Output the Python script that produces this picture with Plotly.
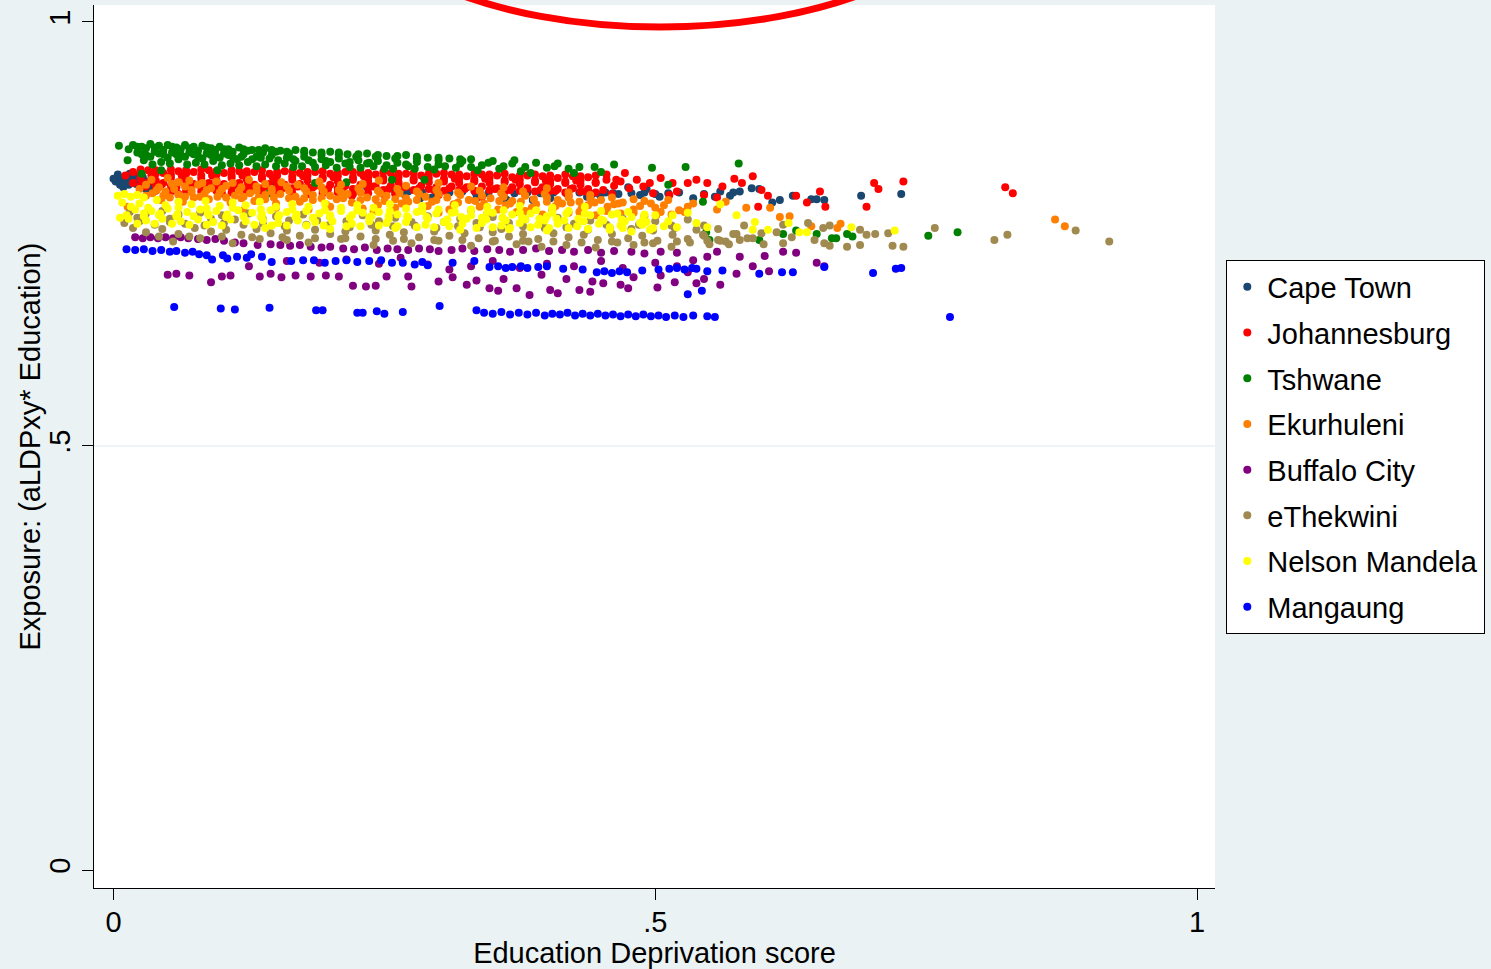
import plotly.graph_objects as go

# ---------------- data ----------------
SERIES = ["Cape Town", "Johannesburg", "Tshwane", "Ekurhuleni",
          "Buffalo City", "eThekwini", "Nelson Mandela", "Mangaung"]
COLORS = ["#1a476f", "#ff0000", "#008000", "#ff8000",
          "#800080", "#a08a50", "#ffff00", "#0000ff"]

X_TICKS = [0, 0.5, 1]
X_TICK_TEXT = ["0", ".5", "1"]
Y_TICKS = [0, 0.5, 1]
Y_TICK_TEXT = ["0", ".5", "1"]

cape_town = [
    (0.002,0.812),(0.006,0.816),(0.006,0.808),(0.010,0.813),(0.012,0.818),(0.014,0.808),(0.017,0.814),
    (0.020,0.819),(0.021,0.809),(0.024,0.813),(0.027,0.817),(0.028,0.808),(0.031,0.812),(0.034,0.806),
    (0.004,0.820),(0.036,0.814),(0.000,0.815),(0.015,0.821),(0.030,0.803),(0.009,0.805),
    (0.149,0.808),(0.234,0.805),(0.269,0.796),(0.283,0.792),(0.294,0.793),(0.335,0.792),(0.360,0.795),
    (0.363,0.790),(0.387,0.790),(0.403,0.792),(0.437,0.794),(0.449,0.796),(0.461,0.798),(0.475,0.805),
    (0.486,0.796),(0.492,0.803),(0.504,0.794),(0.535,0.792),(0.555,0.794),(0.569,0.795),(0.578,0.800),
    (0.589,0.804),(0.596,0.803),(0.608,0.787),(0.615,0.790),(0.627,0.795),(0.644,0.791),(0.649,0.791),
    (0.656,0.790),(0.690,0.795),(0.727,0.797),
    (0.260,0.799),(0.272,0.800),(0.285,0.799),(0.298,0.800),(0.310,0.799),(0.322,0.800),(0.334,0.799),
    (0.346,0.798),(0.358,0.799),(0.370,0.798),(0.382,0.799),(0.394,0.798),(0.406,0.799),(0.418,0.798),
    (0.430,0.799),(0.442,0.797),(0.454,0.799),(0.466,0.797),(0.478,0.798),(0.490,0.799),(0.500,0.797),
    (0.512,0.798),(0.522,0.799),(0.545,0.797),(0.560,0.800),(0.572,0.799),
]

johannesburg = [
    (0.018,0.823),(0.032,0.825),(0.046,0.822),(0.060,0.824),(0.074,0.823),(0.088,0.825),(0.102,0.822),
    (0.116,0.824),(0.130,0.823),(0.144,0.821),(0.158,0.824),(0.172,0.822),(0.186,0.823),(0.200,0.821),
    (0.214,0.823),(0.228,0.822),(0.242,0.820),(0.256,0.822),(0.270,0.821),(0.284,0.819),(0.298,0.821),
    (0.312,0.820),(0.326,0.818),(0.340,0.820),(0.354,0.819),(0.368,0.817),(0.382,0.819),(0.396,0.818),
    (0.410,0.816),(0.424,0.818),(0.438,0.817),
    (0.025,0.815),(0.039,0.813),(0.053,0.816),(0.067,0.814),(0.081,0.815),(0.095,0.813),(0.109,0.816),
    (0.123,0.814),(0.137,0.815),(0.151,0.812),(0.165,0.814),(0.179,0.813),(0.193,0.815),(0.207,0.812),
    (0.221,0.814),(0.235,0.812),(0.249,0.813),(0.263,0.811),(0.277,0.813),(0.291,0.811),(0.305,0.812),
    (0.319,0.810),(0.333,0.812),(0.347,0.810),(0.361,0.811),(0.375,0.809),(0.389,0.811),(0.403,0.809),
    (0.417,0.810),(0.431,0.808),(0.445,0.810),
    (0.030,0.806),(0.044,0.808),(0.058,0.805),(0.072,0.807),(0.086,0.806),(0.100,0.804),(0.114,0.807),
    (0.128,0.805),(0.142,0.806),(0.156,0.804),(0.170,0.806),(0.184,0.805),(0.198,0.803),(0.212,0.805),
    (0.226,0.804),(0.240,0.806),(0.254,0.803),(0.268,0.805),(0.282,0.804),(0.296,0.802),(0.310,0.804),
    (0.324,0.803),(0.338,0.801),(0.352,0.803),(0.366,0.802),(0.380,0.800),(0.394,0.802),(0.408,0.801),
    (0.422,0.803),(0.436,0.800),(0.452,0.802),
    (0.060,0.797),(0.100,0.798),(0.140,0.796),(0.180,0.797),(0.220,0.795),(0.260,0.797),(0.300,0.796),
    (0.340,0.794),(0.380,0.796),(0.420,0.795),(0.460,0.797),
    (0.011,0.819),(0.035,0.819),(0.063,0.819),(0.091,0.819),(0.119,0.819),(0.147,0.817),(0.175,0.818),
    (0.203,0.817),(0.231,0.818),(0.259,0.816),(0.287,0.816),(0.315,0.815),(0.343,0.815),(0.371,0.814),
    (0.399,0.813),(0.427,0.813),(0.455,0.814),
    (0.025,0.820),(0.039,0.821),(0.053,0.820),(0.067,0.821),(0.081,0.819),(0.095,0.820),(0.109,0.819),
    (0.123,0.820),(0.137,0.818),(0.151,0.819),(0.165,0.818),(0.179,0.819),(0.193,0.817),(0.207,0.818),
    (0.221,0.817),(0.235,0.817),(0.249,0.816),(0.263,0.817),(0.277,0.815),(0.291,0.816),(0.305,0.815),
    (0.319,0.815),(0.333,0.814),(0.347,0.815),(0.361,0.813),(0.375,0.814),(0.389,0.813),(0.403,0.813),
    (0.417,0.812),(0.431,0.813),(0.445,0.811),
    (0.018,0.810),(0.032,0.811),(0.046,0.810),(0.060,0.811),(0.074,0.809),(0.088,0.810),(0.102,0.809),
    (0.116,0.810),(0.130,0.808),(0.144,0.809),(0.158,0.808),(0.172,0.809),(0.186,0.807),(0.200,0.808),
    (0.214,0.807),(0.228,0.808),(0.242,0.806),(0.256,0.807),(0.270,0.806),(0.284,0.807),(0.298,0.805),
    (0.312,0.806),(0.326,0.805),(0.340,0.806),(0.354,0.804),(0.368,0.805),(0.382,0.804),(0.396,0.805),
    (0.410,0.803),(0.424,0.804),(0.438,0.803),
    (0.039,0.801),(0.053,0.800),(0.067,0.801),(0.081,0.800),(0.095,0.801),(0.109,0.799),(0.123,0.800),
    (0.137,0.799),(0.151,0.800),(0.165,0.798),(0.179,0.799),(0.193,0.798),(0.207,0.799),(0.221,0.797),
    (0.235,0.798),(0.249,0.797),
    (0.025,0.826),(0.039,0.825),(0.053,0.826),(0.067,0.825),(0.081,0.826),(0.095,0.824),(0.109,0.825),
    (0.123,0.824),(0.137,0.825),(0.151,0.823),(0.165,0.824),(0.179,0.823),(0.193,0.824),(0.207,0.822),
    (0.221,0.823),(0.235,0.822),(0.249,0.823),(0.263,0.821),(0.277,0.822),(0.291,0.821),(0.305,0.822),
    (0.319,0.820),(0.333,0.821),(0.347,0.820),(0.361,0.821),(0.375,0.819),(0.389,0.820),(0.403,0.819),
    (0.417,0.820),(0.431,0.818),(0.445,0.819),
    (0.025,0.807),(0.039,0.806),(0.053,0.807),(0.067,0.806),(0.081,0.805),(0.095,0.806),(0.109,0.805),
    (0.123,0.806),(0.137,0.804),(0.151,0.805),(0.165,0.804),(0.179,0.805),(0.193,0.803),(0.207,0.804),
    (0.221,0.803),(0.235,0.804),(0.249,0.802),(0.263,0.803),(0.277,0.802),(0.291,0.803),(0.305,0.801),
    (0.319,0.802),(0.333,0.801),(0.347,0.802),(0.361,0.800),(0.375,0.801),(0.389,0.800),(0.403,0.801),
    (0.417,0.799),(0.431,0.800),(0.445,0.799),
    (0.455,0.820),(0.462,0.807),(0.464,0.814),(0.468,0.812),(0.472,0.822),(0.476,0.804),(0.483,0.814),
    (0.489,0.806),(0.495,0.810),(0.498,0.798),(0.505,0.816),(0.513,0.796),(0.516,0.810),(0.520,0.800),
    (0.530,0.810),(0.538,0.814),(0.545,0.796),(0.548,0.810),(0.557,0.793),(0.562,0.806),(0.573,0.815),
    (0.580,0.810),(0.590,0.818),(0.595,0.782),(0.598,0.802),(0.604,0.795),(0.630,0.795),(0.640,0.787),
    (0.652,0.800),(0.657,0.782),(0.695,0.782),(0.702,0.810),(0.706,0.803),(0.729,0.812),(0.823,0.805),
    (0.830,0.798),
]

tshwane = [
    (0.018,0.855),(0.026,0.853),(0.034,0.856),(0.042,0.854),(0.050,0.855),(0.058,0.852),(0.066,0.855),
    (0.074,0.853),(0.082,0.854),(0.090,0.851),(0.098,0.853),(0.106,0.850),(0.116,0.852),(0.128,0.849),
    (0.140,0.851),(0.154,0.848),(0.168,0.849),(0.184,0.846),(0.200,0.847),(0.216,0.844),(0.234,0.845),
    (0.252,0.842),(0.270,0.843),(0.290,0.840),(0.310,0.839),(0.330,0.838),(0.350,0.836),(0.370,0.837),
    (0.390,0.834),(0.410,0.833),
    (0.022,0.846),(0.030,0.843),(0.038,0.847),(0.046,0.844),(0.054,0.846),(0.062,0.843),(0.070,0.846),
    (0.078,0.842),(0.086,0.845),(0.094,0.843),(0.102,0.845),(0.110,0.841),(0.120,0.844),(0.132,0.841),
    (0.146,0.843),(0.160,0.840),(0.176,0.841),(0.192,0.838),(0.208,0.839),(0.226,0.837),(0.244,0.836),
    (0.262,0.834),(0.280,0.835),(0.300,0.832),(0.320,0.833),(0.340,0.831),(0.360,0.830),(0.380,0.829),
    (0.400,0.828),(0.420,0.827),
    (0.028,0.837),(0.044,0.835),(0.060,0.838),(0.076,0.834),(0.092,0.836),(0.108,0.833),(0.124,0.835),
    (0.140,0.832),(0.158,0.833),(0.174,0.830),(0.196,0.831),(0.218,0.829),(0.240,0.830),(0.258,0.827),
    (0.296,0.826),(0.336,0.825),(0.376,0.824),
    (0.014,0.850),(0.030,0.851),(0.046,0.849),(0.062,0.850),(0.078,0.848),(0.094,0.849),(0.110,0.847),
    (0.124,0.848),(0.138,0.846),(0.150,0.847),(0.162,0.845),(0.176,0.846),(0.192,0.843),(0.208,0.844),
    (0.224,0.841),(0.242,0.841),(0.260,0.839),(0.280,0.839),(0.300,0.837),(0.322,0.836),(0.346,0.834),
    (0.368,0.833),
    (0.034,0.841),(0.050,0.840),(0.066,0.841),(0.082,0.839),(0.098,0.840),(0.114,0.838),(0.128,0.838),
    (0.152,0.837),(0.168,0.836),(0.184,0.834),(0.200,0.835),(0.214,0.833),(0.234,0.833),(0.252,0.831),
    (0.272,0.830),(0.290,0.829),(0.316,0.828),(0.356,0.827),
    (0.022,0.853),(0.038,0.852),(0.054,0.853),(0.070,0.851),(0.086,0.852),(0.102,0.850),(0.120,0.850),
    (0.134,0.849),(0.146,0.849),(0.160,0.847),(0.176,0.848),(0.192,0.846),(0.208,0.846),(0.226,0.844),
    (0.244,0.843),(0.262,0.842),(0.280,0.841),(0.300,0.840),(0.320,0.838),
    (0.026,0.844),(0.042,0.845),(0.058,0.844),(0.074,0.844),(0.090,0.843),(0.106,0.843),(0.118,0.841),
    (0.136,0.840),(0.144,0.839),(0.166,0.838),(0.180,0.837),(0.196,0.836),(0.218,0.835),(0.236,0.834),
    (0.270,0.832),(0.306,0.830),(0.330,0.829),
    (0.036,0.832),(0.052,0.833),(0.068,0.832),(0.084,0.832),(0.100,0.831),(0.116,0.831),(0.132,0.830),
    (0.150,0.830),(0.166,0.829),(0.186,0.829),(0.206,0.828),(0.228,0.828),(0.250,0.827),(0.278,0.827),
    (0.005,0.854),(0.013,0.837),(0.026,0.821),(0.044,0.825),(0.096,0.825),(0.144,0.798),(0.186,0.810),
    (0.215,0.811),(0.257,0.814),(0.287,0.814),
    (0.407,0.830),(0.430,0.829),(0.444,0.829),(0.462,0.832),(0.497,0.828),(0.528,0.829),(0.577,0.833),
    (0.512,0.808),(0.544,0.788),(0.425,0.822),(0.450,0.823),(0.385,0.822),
    (0.547,0.752),(0.550,0.743),(0.596,0.743),(0.618,0.750),(0.630,0.754),(0.649,0.750),(0.663,0.745),
    (0.667,0.745),(0.677,0.750),(0.682,0.747),(0.752,0.748),(0.779,0.752),
]

ekurhuleni = [
    (0.030,0.808),(0.042,0.805),(0.054,0.809),(0.066,0.806),(0.078,0.808),(0.090,0.804),(0.104,0.807),
    (0.118,0.805),(0.132,0.806),(0.146,0.803),(0.160,0.806),(0.176,0.804),(0.192,0.805),(0.208,0.802),
    (0.226,0.804),(0.244,0.801),(0.262,0.803),(0.280,0.800),(0.298,0.802),(0.318,0.799),(0.338,0.801),
    (0.358,0.798),(0.378,0.800),(0.398,0.797),(0.420,0.799),(0.440,0.796),
    (0.036,0.798),(0.048,0.800),(0.060,0.796),(0.072,0.799),(0.084,0.797),(0.098,0.799),(0.112,0.795),
    (0.126,0.798),(0.140,0.796),(0.154,0.797),(0.168,0.794),(0.184,0.796),(0.200,0.795),(0.216,0.797),
    (0.234,0.793),(0.252,0.795),(0.270,0.792),(0.288,0.794),(0.308,0.793),(0.328,0.790),(0.348,0.792),
    (0.368,0.789),(0.388,0.791),(0.410,0.790),(0.430,0.788),(0.450,0.790),(0.470,0.787),(0.490,0.789),
    (0.044,0.790),(0.064,0.788),(0.088,0.791),(0.108,0.787),(0.130,0.789),(0.150,0.786),(0.172,0.788),
    (0.196,0.785),(0.220,0.787),(0.244,0.784),(0.266,0.786),(0.290,0.783),(0.314,0.785),(0.338,0.782),
    (0.362,0.784),(0.386,0.781),(0.408,0.783),(0.432,0.780),(0.456,0.782),(0.480,0.779),(0.500,0.781),
    (0.120,0.778),(0.180,0.779),(0.240,0.777),(0.300,0.775),(0.345,0.774),(0.372,0.776),(0.396,0.773),
    (0.420,0.775),(0.445,0.772),(0.468,0.774),(0.490,0.771),(0.515,0.773),(0.527,0.776),
    (0.024,0.803),(0.040,0.802),(0.056,0.803),(0.072,0.802),(0.086,0.802),(0.100,0.803),(0.116,0.801),
    (0.132,0.801),(0.146,0.800),(0.162,0.801),(0.178,0.800),(0.194,0.800),(0.210,0.799),(0.228,0.799),
    (0.246,0.798),(0.264,0.798),(0.282,0.797),(0.300,0.797),(0.320,0.796),(0.340,0.795),(0.360,0.794),
    (0.380,0.795),(0.400,0.793),(0.420,0.793),(0.440,0.792),(0.460,0.793),(0.480,0.791),
    (0.052,0.793),(0.074,0.793),(0.096,0.794),(0.118,0.792),(0.140,0.791),(0.162,0.792),(0.184,0.790),
    (0.206,0.791),(0.228,0.790),(0.250,0.789),(0.272,0.788),(0.294,0.788),(0.318,0.787),(0.342,0.786),
    (0.366,0.786),(0.390,0.785),(0.414,0.786),(0.438,0.784),(0.462,0.785),(0.486,0.783),(0.508,0.784),
    (0.530,0.782),
    (0.030,0.795),(0.046,0.795),(0.066,0.794),(0.080,0.794),(0.104,0.793),(0.120,0.794),(0.134,0.793),
    (0.148,0.793),(0.176,0.792),(0.192,0.792),(0.212,0.792),(0.242,0.791),(0.260,0.791),(0.280,0.790),
    (0.298,0.790),(0.334,0.789),(0.356,0.789),(0.376,0.788),(0.400,0.788),(0.422,0.787),(0.444,0.787),
    (0.466,0.786),(0.496,0.786),
    (0.150,0.781),(0.200,0.782),(0.230,0.780),(0.260,0.781),(0.285,0.779),(0.310,0.779),(0.330,0.778),
    (0.355,0.779),(0.380,0.777),(0.405,0.778),(0.430,0.776),(0.455,0.777),(0.480,0.775),(0.505,0.776),
    (0.035,0.814),(0.050,0.816),(0.070,0.813),(0.095,0.812),(0.125,0.814),(0.155,0.811),(0.190,0.812),
    (0.245,0.813),(0.300,0.810),(0.013,0.782),
    (0.060,0.811),(0.082,0.810),(0.110,0.810),(0.140,0.809),(0.170,0.808),(0.210,0.808),(0.230,0.809),
    (0.270,0.807),(0.330,0.806),(0.360,0.805),(0.400,0.804),
    (0.501,0.772),(0.512,0.790),(0.522,0.778),(0.535,0.786),(0.557,0.779),(0.565,0.788),(0.584,0.781),
    (0.606,0.781),(0.615,0.770),(0.624,0.771),(0.644,0.759),(0.668,0.757),(0.671,0.762),(0.869,0.767),
    (0.878,0.759),
]

buffalo_city = [
    (0.020,0.746),(0.027,0.745),(0.034,0.746),(0.041,0.745),(0.048,0.746),(0.055,0.745),(0.062,0.746),
    (0.069,0.745),(0.078,0.744),(0.086,0.743),(0.094,0.744),(0.102,0.742),(0.112,0.740),(0.120,0.739),
    (0.133,0.737),(0.145,0.738),(0.154,0.737),(0.163,0.736),(0.172,0.737),(0.182,0.735),(0.192,0.734),
    (0.200,0.735),(0.212,0.733),(0.222,0.732),(0.232,0.734),(0.243,0.731),(0.253,0.733),(0.262,0.732),
    (0.272,0.731),(0.282,0.733),(0.292,0.732),(0.300,0.730),(0.312,0.731),(0.322,0.733),(0.333,0.730),
    (0.345,0.732),(0.356,0.731),(0.366,0.729),(0.378,0.731),(0.390,0.733),(0.402,0.730),(0.414,0.731),
    (0.425,0.729),(0.438,0.731),(0.450,0.728),(0.462,0.730),(0.478,0.729),(0.490,0.727),(0.505,0.729),
    (0.520,0.728),(0.548,0.723),(0.557,0.729),(0.578,0.723),(0.590,0.712),(0.601,0.724),(0.618,0.729),
    (0.630,0.728),(0.649,0.716),
    (0.050,0.702),(0.058,0.703),(0.070,0.701),(0.090,0.693),(0.100,0.700),(0.108,0.701),(0.125,0.712),
    (0.135,0.700),(0.145,0.703),(0.155,0.699),(0.168,0.701),(0.182,0.700),(0.196,0.701),(0.208,0.700),
    (0.221,0.689),(0.233,0.688),(0.242,0.689),(0.252,0.700),(0.272,0.700),(0.275,0.688),(0.300,0.694),
    (0.160,0.718),(0.190,0.716),(0.215,0.720),(0.245,0.715),(0.265,0.722),(0.290,0.714),(0.310,0.708),
    (0.313,0.699),(0.326,0.690),(0.335,0.695),(0.347,0.686),(0.360,0.697),(0.372,0.686),(0.384,0.678),
    (0.395,0.702),(0.403,0.684),(0.418,0.697),(0.430,0.684),(0.442,0.694),(0.452,0.692),(0.468,0.690),
    (0.475,0.686),(0.480,0.699),(0.502,0.687),(0.505,0.701),(0.518,0.693),(0.530,0.705),(0.538,0.692),
    (0.545,0.697),(0.560,0.690),(0.575,0.703),(0.605,0.706),(0.656,0.712),(0.330,0.712),(0.350,0.718),
    (0.375,0.710),(0.400,0.715),(0.425,0.712),(0.450,0.718),(0.470,0.710),(0.500,0.716),(0.520,0.712),
    (0.535,0.719),(0.355,0.683),(0.410,0.680),(0.440,0.682),
]

ethekwini = [
    (0.015,0.776),(0.030,0.774),(0.045,0.777),(0.060,0.773),(0.080,0.775),(0.100,0.772),(0.125,0.774),
    (0.150,0.771),(0.175,0.773),(0.200,0.770),(0.230,0.772),(0.260,0.769),(0.290,0.771),(0.320,0.768),
    (0.350,0.770),(0.380,0.767),(0.410,0.769),(0.440,0.766),(0.470,0.768),(0.500,0.765),(0.530,0.767),
    (0.010,0.763),(0.024,0.765),(0.038,0.761),(0.052,0.764),(0.066,0.762),(0.084,0.760),(0.102,0.763),
    (0.120,0.761),(0.138,0.762),(0.158,0.759),(0.178,0.761),(0.198,0.760),(0.218,0.758),(0.238,0.761),
    (0.258,0.759),(0.278,0.760),(0.298,0.757),(0.318,0.759),(0.338,0.758),(0.358,0.756),(0.378,0.759),
    (0.398,0.757),(0.418,0.758),(0.438,0.755),(0.458,0.757),(0.478,0.756),(0.498,0.754),(0.518,0.757),
    (0.538,0.755),(0.558,0.756),
    (0.030,0.752),(0.060,0.750),(0.090,0.753),(0.118,0.749),(0.145,0.751),(0.172,0.748),(0.200,0.750),
    (0.228,0.747),(0.255,0.749),(0.282,0.746),(0.310,0.748),(0.337,0.745),(0.365,0.747),(0.392,0.744),
    (0.420,0.746),(0.447,0.743),(0.475,0.745),(0.502,0.742),(0.530,0.744),(0.558,0.743),(0.585,0.745),
    (0.055,0.741),(0.110,0.739),(0.180,0.740),(0.240,0.737),(0.275,0.739),(0.330,0.736),(0.372,0.738),
    (0.395,0.735),(0.418,0.737),(0.445,0.734),(0.480,0.737),(0.515,0.735),(0.550,0.738),
    (0.018,0.757),(0.045,0.756),(0.075,0.757),(0.104,0.755),(0.132,0.756),(0.160,0.754),(0.186,0.755),
    (0.214,0.753),(0.242,0.754),(0.268,0.752),(0.296,0.753),(0.324,0.751),(0.350,0.752),(0.378,0.750),
    (0.406,0.751),(0.434,0.749),(0.460,0.750),(0.488,0.748),(0.516,0.749),(0.544,0.749),(0.572,0.750),
    (0.598,0.751),
    (0.080,0.745),(0.135,0.744),(0.160,0.743),(0.210,0.744),(0.258,0.742),(0.300,0.742),(0.350,0.741),
    (0.383,0.741),(0.432,0.740),(0.465,0.740),(0.498,0.739),(0.532,0.740),(0.565,0.741),
    (0.022,0.769),(0.052,0.768),(0.090,0.768),(0.112,0.767),(0.138,0.767),(0.162,0.766),(0.188,0.766),
    (0.215,0.765),(0.245,0.765),(0.275,0.764),(0.305,0.764),(0.335,0.763),(0.365,0.763),(0.395,0.762),
    (0.425,0.762),(0.455,0.761),(0.485,0.761),(0.515,0.760),(0.545,0.760),
    (0.042,0.747),(0.070,0.747),(0.100,0.747),(0.128,0.746),(0.156,0.746),(0.186,0.745),(0.214,0.745),
    (0.242,0.744),(0.268,0.744),(0.296,0.743),(0.322,0.743),(0.352,0.742),(0.378,0.742),(0.406,0.741),
    (0.460,0.741),(0.490,0.740),(0.520,0.741),(0.548,0.742),(0.578,0.743),
    (0.545,0.748),(0.560,0.742),(0.568,0.738),(0.575,0.750),(0.582,0.760),(0.590,0.745),(0.600,0.738),
    (0.612,0.752),(0.618,0.761),(0.618,0.739),(0.626,0.746),(0.641,0.763),(0.647,0.743),(0.655,0.757),
    (0.656,0.739),(0.661,0.736),(0.661,0.760),(0.677,0.735),(0.689,0.755),(0.689,0.737),(0.695,0.749),
    (0.703,0.750),(0.715,0.751),(0.719,0.736),(0.729,0.735),(0.758,0.757),(0.813,0.743),(0.825,0.749),
    (0.888,0.754),(0.919,0.741),
]

nelson_mandela = [
    (0.004,0.795),(0.010,0.797),(0.016,0.794),(0.022,0.796),(0.028,0.793),(0.040,0.790),(0.060,0.788),
    (0.085,0.789),(0.110,0.787),(0.135,0.788),(0.165,0.785),(0.195,0.786),(0.225,0.784),(0.255,0.785),
    (0.285,0.783),(0.315,0.784),(0.345,0.782),(0.375,0.783),(0.405,0.781),(0.435,0.782),
    (0.020,0.779),(0.035,0.777),(0.050,0.780),(0.068,0.776),(0.080,0.779),(0.095,0.777),(0.115,0.778),
    (0.128,0.775),(0.145,0.778),(0.160,0.776),(0.178,0.777),(0.190,0.774),(0.210,0.777),(0.230,0.775),
    (0.245,0.776),(0.262,0.773),(0.280,0.776),(0.298,0.774),(0.312,0.775),(0.330,0.772),(0.350,0.775),
    (0.368,0.773),(0.385,0.774),(0.400,0.771),(0.418,0.774),(0.440,0.772),(0.460,0.773),(0.478,0.770),
    (0.500,0.772),
    (0.006,0.769),(0.014,0.768),(0.030,0.766),(0.045,0.768),(0.062,0.765),(0.078,0.767),(0.092,0.764),
    (0.108,0.767),(0.122,0.765),(0.138,0.766),(0.152,0.763),(0.170,0.766),(0.186,0.764),(0.202,0.765),
    (0.220,0.762),(0.236,0.765),(0.252,0.763),(0.270,0.764),(0.288,0.761),(0.305,0.764),(0.322,0.762),
    (0.340,0.763),(0.358,0.760),(0.375,0.763),(0.392,0.761),(0.410,0.762),(0.428,0.759),(0.448,0.762),
    (0.468,0.760),(0.488,0.761),(0.508,0.759),
    (0.140,0.757),(0.200,0.756),(0.260,0.757),(0.320,0.755),(0.365,0.756),(0.400,0.754),(0.438,0.756),
    (0.458,0.755),(0.478,0.753),(0.495,0.755),
    (0.008,0.787),(0.024,0.786),(0.048,0.784),(0.072,0.785),(0.098,0.783),(0.122,0.784),(0.150,0.782),
    (0.180,0.782),(0.210,0.781),(0.240,0.781),(0.270,0.780),(0.300,0.779),(0.330,0.779),(0.360,0.778),
    (0.390,0.778),(0.420,0.777),(0.450,0.777),(0.475,0.776),
    (0.012,0.772),(0.028,0.771),(0.042,0.772),(0.058,0.771),(0.074,0.771),(0.088,0.772),(0.104,0.770),
    (0.120,0.771),(0.136,0.770),(0.152,0.770),(0.168,0.770),(0.184,0.769),(0.200,0.770),(0.218,0.769),
    (0.236,0.769),(0.254,0.768),(0.272,0.769),(0.290,0.768),(0.308,0.767),(0.326,0.768),(0.344,0.767),
    (0.362,0.766),(0.380,0.767),(0.398,0.766),(0.416,0.766),(0.434,0.765),(0.452,0.766),(0.472,0.765),
    (0.492,0.764),(0.512,0.765),
    (0.100,0.760),(0.160,0.760),(0.215,0.759),(0.245,0.760),(0.280,0.758),(0.310,0.759),(0.335,0.757),
    (0.385,0.758),(0.420,0.757),(0.470,0.757),(0.520,0.758),
    (0.016,0.782),(0.032,0.781),(0.060,0.781),(0.086,0.780),(0.110,0.781),(0.136,0.779),(0.165,0.779),
    (0.195,0.778),(0.225,0.778),(0.255,0.777),(0.285,0.777),(0.315,0.776),(0.345,0.776),(0.375,0.775),
    (0.405,0.775),(0.435,0.774),(0.465,0.774),(0.490,0.773),
    (0.028,0.774),(0.043,0.774),(0.059,0.773),(0.087,0.774),(0.105,0.773),(0.137,0.773),(0.153,0.772),
    (0.169,0.773),(0.200,0.772),(0.220,0.772),(0.238,0.771),(0.254,0.771),(0.271,0.771),(0.289,0.770),
    (0.321,0.770),(0.340,0.769),(0.359,0.769),(0.377,0.769),(0.393,0.768),(0.409,0.768),(0.429,0.768),
    (0.450,0.767),(0.469,0.767),(0.489,0.767),
    (0.022,0.762),(0.038,0.762),(0.054,0.762),(0.070,0.761),(0.086,0.761),(0.130,0.761),(0.146,0.760),
    (0.178,0.760),(0.194,0.760),(0.228,0.759),(0.262,0.759),(0.296,0.758),(0.350,0.758),(0.366,0.757),
    (0.402,0.757),(0.438,0.756),(0.458,0.758),(0.498,0.757),
    (0.486,0.763),(0.516,0.772),(0.530,0.775),(0.538,0.763),(0.548,0.758),(0.560,0.785),(0.575,0.772),
    (0.590,0.755),(0.592,0.764),(0.604,0.755),(0.623,0.763),(0.633,0.752),(0.640,0.752),(0.681,0.758),
    (0.721,0.754),
]

mangaung = [
    (0.012,0.732),(0.020,0.731),(0.028,0.732),(0.036,0.730),(0.044,0.731),(0.052,0.729),(0.058,0.730),
    (0.066,0.728),(0.073,0.729),(0.079,0.726),(0.086,0.725),(0.091,0.720),(0.101,0.725),(0.105,0.721),
    (0.114,0.723),(0.123,0.722),(0.127,0.726),(0.137,0.723),(0.146,0.717),(0.164,0.718),(0.175,0.719),
    (0.185,0.719),(0.195,0.716),(0.205,0.718),(0.215,0.719),(0.225,0.717),(0.236,0.718),(0.247,0.719),
    (0.257,0.716),(0.267,0.716),(0.278,0.714),(0.285,0.717),(0.290,0.713),(0.313,0.716),(0.333,0.718),
    (0.347,0.711),(0.355,0.712),(0.362,0.710),(0.368,0.711),(0.376,0.712),(0.382,0.710),(0.392,0.711),
    (0.400,0.712),(0.415,0.709),(0.433,0.708),(0.446,0.705),(0.453,0.706),(0.460,0.704),(0.467,0.706),
    (0.474,0.705),(0.488,0.707),(0.503,0.708),(0.513,0.709),(0.520,0.710),(0.527,0.708),(0.534,0.710),
    (0.538,0.709),(0.548,0.706),(0.562,0.707),(0.596,0.703),(0.617,0.705),(0.627,0.705),(0.656,0.711),
    (0.701,0.704),(0.722,0.709),(0.727,0.710),(0.530,0.679),(0.543,0.683),
    (0.056,0.664),(0.099,0.662),(0.112,0.661),(0.144,0.663),(0.187,0.660),(0.193,0.660),(0.225,0.657),
    (0.230,0.657),(0.243,0.659),(0.250,0.656),(0.267,0.658),(0.301,0.665),
    (0.335,0.660),(0.342,0.657),(0.350,0.656),(0.358,0.658),(0.366,0.655),(0.374,0.657),(0.382,0.655),
    (0.390,0.657),(0.398,0.654),(0.405,0.656),(0.412,0.655),(0.419,0.657),(0.426,0.654),(0.433,0.656),
    (0.440,0.654),(0.447,0.656),(0.454,0.654),(0.461,0.655),(0.468,0.653),(0.475,0.655),(0.482,0.653),
    (0.489,0.655),(0.496,0.653),(0.503,0.654),(0.510,0.652),(0.518,0.654),(0.526,0.652),(0.535,0.654),
    (0.548,0.653),(0.555,0.652),
    (0.772,0.652),
]

POINTS = [cape_town, johannesburg, tshwane, ekurhuleni,
          buffalo_city, ethekwini, nelson_mandela, mangaung]

# ---------------- figure ----------------
FONT = "Liberation Sans, Arial, Helvetica, sans-serif"
BG = "#eaf2f3"
W, H = 1491, 969
ML, MR, MT, MB = 94, 276, 5, 81
PLOT_W = W - ML - MR

fig = go.Figure()
for name, color, pts in zip(SERIES, COLORS, POINTS):
    fig.add_trace(go.Scatter(
        x=[p[0] for p in pts], y=[p[1] for p in pts],
        mode="markers", name=name, legendgroup=name,
        marker=dict(color=color, size=8, line=dict(width=0)),
    ))

axis_common = dict(
    showline=True, linecolor="black", linewidth=1.3,
    ticks="outside", ticklen=11, tickwidth=1.3, tickcolor="black",
    showgrid=False, zeroline=False,
    tickfont=dict(family=FONT, size=29, color="black"),
)

fig.update_xaxes(
    range=[-0.018, 1.0166], tickvals=X_TICKS, ticktext=X_TICK_TEXT,
    ticklabelstandoff=-3,
    title=dict(text="Education Deprivation score",
               font=dict(family=FONT, size=29, color="black"), standoff=0),
    **axis_common,
)
fig.update_yaxes(
    range=[-0.0212, 1.020], tickvals=Y_TICKS, ticktext=Y_TICK_TEXT, tickangle=-90,
    **axis_common,
)

fig.update_layout(
    width=W, height=H,
    margin=dict(l=ML, r=MR, t=MT, b=MB),
    paper_bgcolor=BG, plot_bgcolor="white",
    font=dict(family=FONT, size=29, color="black"),
    showlegend=True,
    legend=dict(
        x=(1226 - ML) / PLOT_W, xanchor="left", y=0.711, yanchor="top",
        bgcolor="white", bordercolor="black", borderwidth=1.3,
        font=dict(family=FONT, size=29, color="black"),
        tracegroupgap=5, itemsizing="trace",
    ),
    annotations=[
        dict(text="Exposure: (aLDPxy* Education)", textangle=-90,
             xref="paper", yref="paper", x=(29 - ML) / PLOT_W, y=0.5,
             xanchor="center", yanchor="middle", showarrow=False,
             font=dict(family=FONT, size=29, color="black")),
    ],
    shapes=[
        dict(type="line", xref="paper", x0=0, x1=1, yref="y", y0=0.5, y1=0.5,
             line=dict(color=BG, width=1.5), layer="below"),
        dict(type="circle", xref="paper", yref="paper",
             x0=0.216, x1=0.794, y0=0.975, y1=1.319,
             line=dict(color="#ff0000", width=7), layer="above"),
    ],
)

fig.write_html(
    "out.html",
    config={"displayModeBar": False},
    post_script="document.body.style.margin='0';document.body.style.overflow='hidden';"
                "document.documentElement.style.background='%s';" % BG,
)
